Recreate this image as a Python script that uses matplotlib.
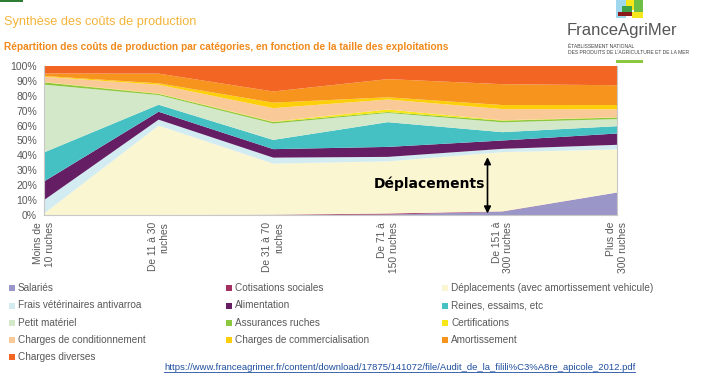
import matplotlib
matplotlib.use("Agg")
import matplotlib.pyplot as plt
from matplotlib.patches import Rectangle
from matplotlib.lines import Line2D
import numpy as np

categories = ["Moins de\n10 ruches", "De 11 à 30\nruches", "De 31 à 70\nruches",
              "De 71 à\n150 ruches", "De 151 à\n300 ruches", "Plus de\n300 ruches"]

salaries        = [0.0, 0.0, 0.0, 0.3, 2.2, 15.1]
cotisations     = [0.0, 0.0, 0.2, 0.7, 0.2, 0.0]
deplacements    = [1.0, 60.0, 34.3, 35.0, 39.8, 28.9]
frais_vet       = [9.0, 4.0, 4.0, 3.0, 2.2, 3.1]
alimentation    = [12.5, 5.3, 5.7, 6.7, 5.6, 7.6]
reines          = [19.5, 4.7, 6.2, 16.6, 5.6, 4.9]
petit_materiel  = [45.5, 6.5, 11.0, 6.2, 6.6, 4.8]
assurances      = [1.5, 0.8, 1.0, 0.6, 1.1, 1.0]
certifications  = [0.2, 0.3, 0.3, 1.7, 0.3, 0.2]
conditionnement = [3.6, 5.8, 9.0, 6.7, 7.5, 5.3]
commercial      = [0.5, 1.0, 3.7, 1.5, 2.7, 2.9]
amortissement   = [1.7, 6.5, 7.5, 12.2, 14.0, 13.3]
diverses        = [5.0, 5.1, 17.1, 8.8, 12.2, 12.9]

series_labels = ["Salariés", "Cotisations sociales", "Déplacements (avec amortissement vehicule)",
                 "Frais vétérinaires antivarroa", "Alimentation", "Reines, essaims, etc",
                 "Petit matériel", "Assurances ruches", "Certifications",
                 "Charges de conditionnement", "Charges de commercialisation", "Amortissement",
                 "Charges diverses"]
series_values = [salaries, cotisations, deplacements, frais_vet, alimentation, reines,
                 petit_materiel, assurances, certifications, conditionnement, commercial,
                 amortissement, diverses]
colors = ["#9A96C8", "#A3305E", "#FBF6D2", "#D3ECF2", "#651E63", "#45C1C4",
          "#D3E8C9", "#8DC63F", "#F5E71A", "#FAC998", "#FDCF0A", "#F7941D", "#F26522"]

yticks = [0, 10, 20, 30, 40, 50, 60, 70, 80, 90, 100]
ytick_labels = [f"{v}%" for v in yticks]

W, H = 701, 377
fig = plt.figure(figsize=(W / 100, H / 100), dpi=100)
fig.patch.set_facecolor("white")

def fx(px):
    return px / W

def fy(py):
    return 1 - py / H

ax = fig.add_axes([fx(44), fy(215), fx(617) - fx(44), fy(66) - fy(215)])
x = np.arange(len(categories))
ax.stackplot(x, *series_values, colors=colors, linewidth=0)
ax.set_xlim(0, len(categories) - 1)
ax.set_ylim(0, 100)
ax.set_yticks(yticks)
ax.set_yticklabels(ytick_labels, fontsize=7.5, color="#595959", family="Liberation Sans")
ax.set_xticks(x)
ax.set_xticklabels(categories, rotation=90, fontsize=7.4, color="#595959",
                   family="Liberation Sans", va="top", ha="center", multialignment="right")
ax.tick_params(length=0, pad=5)
for s in ["left", "bottom", "right"]:
    ax.spines[s].set_color("#C8C8C8")
    ax.spines[s].set_linewidth(0.8)
ax.spines["top"].set_visible(False)

# annotation
ax.annotate("", xy=(3.87, 1.0), xytext=(3.87, 38.8),
            arrowprops=dict(arrowstyle="<|-|>", color="black", lw=1.2,
                            mutation_scale=10, shrinkA=0, shrinkB=0))
ax.text(3.36, 21.3, "Déplacements", fontsize=10, fontweight="bold", color="black",
        ha="center", va="center", family="DejaVu Sans")

# titles
fig.text(fx(4), fy(22), "Synthèse des coûts de production", fontsize=9.2,
         color="#F4B43A", ha="left", va="center", family="Liberation Sans")
fig.text(fx(4), fy(47), "Répartition des coûts de production par catégories, en fonction de la taille des exploitations",
         fontsize=7.3, fontweight="bold", color="#F08A1C", ha="left", va="center",
         family=["Liberation Sans Narrow", "Liberation Sans"])

# top-left bar
fig.add_artist(Rectangle((fx(0), fy(2)), fx(23), fy(0) - fy(2), transform=fig.transFigure,
                         color="#2E7D32", lw=0))

# logo
logo_blocks = [(616, 0, 10, 18, "#9FD8EE"), (626, 0, 8, 10, "#F5E71A"), (634, 0, 9, 12, "#6CBE45"),
               (622, 6, 10, 6, "#3CA34B"), (618, 12, 14, 4, "#8B1A1A"), (632, 12, 11, 6, "#F5E71A")]
for bx, by, bw, bh, bc in logo_blocks:
    fig.add_artist(Rectangle((fx(bx), fy(by + bh)), fx(bw), fy(by) - fy(by + bh),
                             transform=fig.transFigure, color=bc, lw=0))
fig.text(fx(567), fy(31), "FranceAgriMer", fontsize=12, color="#555555",
         ha="left", va="center", family="Liberation Sans")
fig.text(fx(568), fy(46), "ÉTABLISSEMENT NATIONAL", fontsize=3.6, color="#444444",
         ha="left", va="center", family="Liberation Sans")
fig.text(fx(568), fy(53), "DES PRODUITS DE L’AGRICULTURE ET DE LA MER", fontsize=3.6,
         color="#444444", ha="left", va="center", family="Liberation Sans")
fig.add_artist(Rectangle((fx(616), fy(63)), fx(27), fy(60) - fy(63), transform=fig.transFigure,
                         color="#8DC63F", lw=0))

# legend
col_x = [9, 226, 442]
row_y = [288, 305.5, 323, 340, 357]
for i, (lab, col) in enumerate(zip(series_labels, colors)):
    r, c = divmod(i, 3)
    sx, sy = col_x[c], row_y[r]
    fig.add_artist(Rectangle((fx(sx), fy(sy + 3)), fx(6), fy(sy - 3) - fy(sy + 3),
                             transform=fig.transFigure, color=col, lw=0))
    fig.text(fx(sx + 9), fy(sy), lab, fontsize=7.2, color="#595959", ha="left", va="center",
             family="Liberation Sans")

# url
url = "https://www.franceagrimer.fr/content/download/17875/141072/file/Audit_de_la_filili%C3%A8re_apicole_2012.pdf"
t = fig.text(fx(164), fy(367), url, fontsize=6.8, color="#1F4E9E", ha="left", va="center",
             family="Liberation Sans")
fig.canvas.draw()
bb = t.get_window_extent()
fig.add_artist(Line2D([bb.x0 / W, bb.x1 / W], [fy(372), fy(372)], transform=fig.transFigure,
                      color="#1F4E9E", lw=0.6))

fig.savefig("out.png", dpi=100)
